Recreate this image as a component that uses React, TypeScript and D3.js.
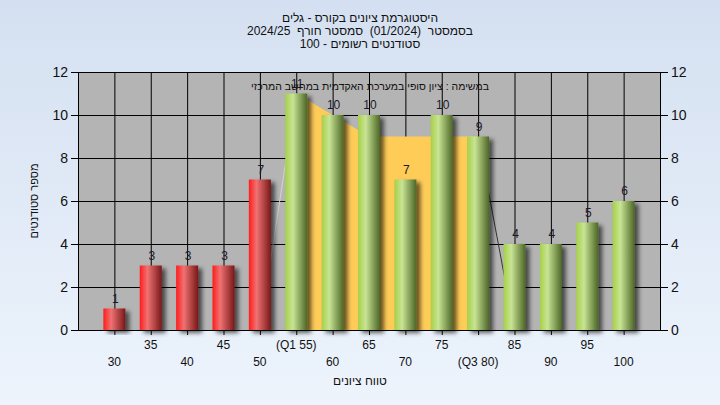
import * as d3 from "d3";
import * as React from "react";

// grade bins, as labelled under the axis
const categories = ["30", "35", "40", "45", "50", "(Q1 55)", "60", "65", "70", "75", "(Q3 80)", "85", "90", "95", "100"];
const counts = [1, 3, 3, 3, 7, 11, 10, 10, 7, 10, 9, 4, 4, 5, 6];
// interquartile band drawn behind the bars
const bandCats = ["50", "(Q1 55)", "60", "65", "70", "75", "(Q3 80)", "85"];
const bandValues = [0, 11, 10, 9, 9, 9, 9, 0];
const yTicks = [0, 2, 4, 6, 8, 10, 12];

const titleLines = ["היסטוגרמת ציונים בקורס - גלים", "בסמסטר  (01/2024)  סמסטר חורף  2024/25", "סטודנטים רשומים - 100"];
const note = "במשימה : ציון סופי במערכת האקדמית במחשב המרכזי";
const xTitle = "טווח ציונים";
const yTitle = "מספר סטודנטים";

const W = 720;
const H = 405;
const left = 78;
const right = 660;
const top = 72;
const bottom = 330;
const barW = 22;
const font = '"Liberation Sans", Arial, sans-serif';

export default function App() {
  const x = d3.scalePoint<string>().domain(categories).range([left, right]).padding(1);
  const y = d3.scaleLinear().domain([0, 12]).range([bottom, top]);

  const q1 = x("(Q1 55)")!;
  const q3 = x("(Q3 80)")!;

  const bandPts = bandCats.map((c, i) => [x(c)!, y(bandValues[i])] as [number, number]);
  const area = d3
    .area<[number, number]>()
    .x((d) => d[0])
    .y0(bottom)
    .y1((d) => d[1]);
  const line = d3.line<[number, number]>();

  return (
    <svg width={W} height={H} style={{ position: "absolute", left: 0, top: 0 }} fontFamily={font}>
      <defs>
        <linearGradient id="bg" x1="0" y1="0" x2="0" y2="1">
          <stop offset="0%" stopColor="#d4e0f1" />
          <stop offset="100%" stopColor="#edf4fc" />
        </linearGradient>
        <linearGradient id="red" x1="0" y1="0" x2="1" y2="0">
          <stop offset="0%" stopColor="#ff1c1c" />
          <stop offset="35%" stopColor="#f07272" />
          <stop offset="100%" stopColor="#781818" />
        </linearGradient>
        <linearGradient id="green" x1="0" y1="0" x2="1" y2="0">
          <stop offset="0%" stopColor="#a6d048" />
          <stop offset="35%" stopColor="#c8e494" />
          <stop offset="100%" stopColor="#4c6626" />
        </linearGradient>
        <filter id="shadow" x="-30%" y="-10%" width="180%" height="130%">
          <feDropShadow dx="4" dy="3" stdDeviation="2" floodColor="#000" floodOpacity="0.6" />
        </filter>
        <clipPath id="iqr">
          <rect x={q1} y={top} width={q3 - q1} height={bottom - top} />
        </clipPath>
      </defs>

      <rect width={W} height={H} fill="url(#bg)" />

      {/* titles */}
      {titleLines.map((t, i) => (
        <text
          key={i}
          x={360}
          y={22 + i * 13}
          fontSize={12}
          textAnchor="middle"
          direction="rtl"
          fill="#111"
          style={{ whiteSpace: "pre" }}
        >
          {t}
        </text>
      ))}

      {/* plot area */}
      <rect x={left} y={top} width={right - left} height={bottom - top} fill="#b4b4b4" />
      {yTicks.map((t) => (
        <line key={"h" + t} x1={left} x2={right} y1={y(t) + 0.5} y2={y(t) + 0.5} stroke="#000" />
      ))}
      {categories.map((c) => (
        <line key={"v" + c} x1={x(c)! + 0.5} x2={x(c)! + 0.5} y1={top} y2={bottom} stroke="#000" />
      ))}
      <rect x={left + 0.5} y={top + 0.5} width={right - left} height={bottom - top} fill="none" stroke="#000" />

      {/* quartile band */}
      <path d={area(bandPts)!} fill="#ffcc58" clipPath="url(#iqr)" />
      <path d={line(bandPts.slice(0, 2))!} stroke="#d2d2d2" strokeWidth={1} fill="none" />
      <path d={line(bandPts.slice(-2))!} stroke="#333" strokeWidth={1} fill="none" />

      {/* bars */}
      {categories.map((c, i) => (
        <rect
          key={"b" + c}
          x={x(c)! - barW / 2}
          y={y(counts[i])}
          width={barW}
          height={bottom - y(counts[i])}
          fill={i < 5 ? "url(#red)" : "url(#green)"}
          filter="url(#shadow)"
        />
      ))}
      {categories.map((c, i) => (
        <text key={"l" + c} x={x(c)! + 1} y={y(counts[i]) - 6} fontSize={12} textAnchor="middle" fill="#1a1a2a">
          {counts[i]}
        </text>
      ))}

      <text x={(left + right) / 2 + 1} y={90} fontSize={10.5} textAnchor="middle" direction="rtl" fill="#111">
        {note}
      </text>

      {/* axes */}
      <line x1={left} x2={right} y1={bottom + 0.5} y2={bottom + 0.5} stroke="#000" />
      {categories.map((c, i) => (
        <g key={"x" + c}>
          <line x1={x(c)! + 0.5} x2={x(c)! + 0.5} y1={bottom} y2={bottom + 5} stroke="#000" />
          <text x={x(c)!} y={i % 2 === 0 ? 366 : 349} fontSize={12} textAnchor="middle" fill="#111">
            {c}
          </text>
        </g>
      ))}
      {yTicks.map((t) => (
        <g key={"y" + t}>
          <line x1={left - 7} x2={left} y1={y(t) + 0.5} y2={y(t) + 0.5} stroke="#000" />
          <text x={left - 10} y={y(t) + 5} fontSize={14} textAnchor="end" fill="#111">
            {t}
          </text>
          <line x1={right} x2={right + 8} y1={y(t) + 0.5} y2={y(t) + 0.5} stroke="#000" />
          <text x={right + 11} y={y(t) + 5} fontSize={14} textAnchor="start" fill="#111">
            {t}
          </text>
        </g>
      ))}

      <text x={360} y={385} fontSize={12} textAnchor="middle" direction="rtl" fill="#111">
        {xTitle}
      </text>
      <text
        transform={`translate(38, ${(top + bottom) / 2}) rotate(-90)`}
        fontSize={11}
        textAnchor="middle"
        direction="rtl"
        fill="#111"
      >
        {yTitle}
      </text>
    </svg>
  );
}
